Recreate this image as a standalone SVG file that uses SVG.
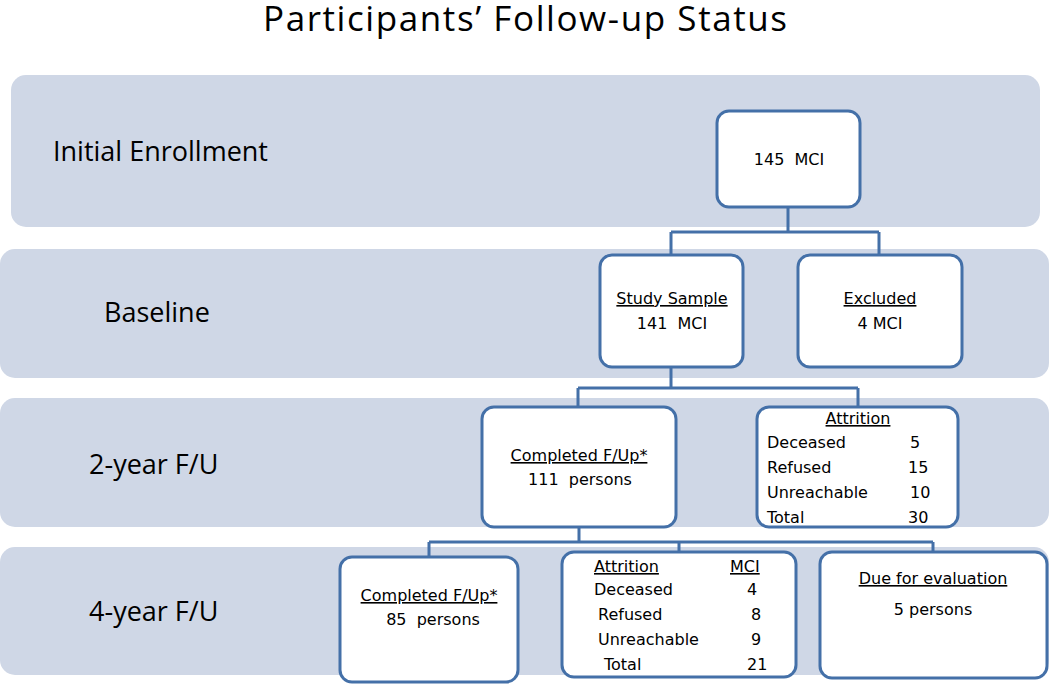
<svg xmlns="http://www.w3.org/2000/svg" width="1050" height="684" viewBox="0 0 1050 684">
<style>
.band{fill:#cfd7e6}
.box{fill:#ffffff;stroke:#4470a8;stroke-width:3}
.conn{fill:none;stroke:#4470a8;stroke-width:3}
.lbl{font-family:"Open Sans",Lato,"Liberation Sans",sans-serif;font-size:27px;fill:#000}
.t{font-family:"DejaVu Sans",Verdana,sans-serif;font-size:16px;fill:#000;white-space:pre}
.c{text-anchor:middle}
.u{text-decoration:underline}
.title{font-family:"Open Sans",Lato,"Liberation Sans",sans-serif;font-size:35px;fill:#000;text-anchor:middle}
</style>
<rect width="1050" height="684" fill="#ffffff"/>
<text class="title" x="525" y="31" textLength="524">Participants’ Follow-up Status</text>
<g id="bands">
<rect class="band" x="11" y="75" width="1029" height="152" rx="15"/>
<rect class="band" x="0" y="249" width="1049" height="129" rx="15"/>
<rect class="band" x="0" y="398" width="1049" height="129" rx="15"/>
<rect class="band" x="0" y="547" width="1049" height="128" rx="15"/>
<text class="lbl" x="53" y="161">Initial Enrollment</text>
<text class="lbl" x="104" y="322">Baseline</text>
<text class="lbl" x="89" y="474">2-year F/U</text>
<text class="lbl" x="89" y="621">4-year F/U</text>
</g>
<g id="connectors">
<path class="conn" d="M788 207V232 M671 232H879 M671 232V255 M879 232V255"/>
<path class="conn" d="M671 367V388 M578 388H858 M578 388V407 M858 388V407"/>
<path class="conn" d="M579 527V542 M429 542H933 M429 542V557 M679 542V552 M933 542V552"/>
</g>
<g id="n145">
<rect class="box" x="717" y="111" width="143" height="96" rx="12"/>
<text class="t c" x="789" y="165">145  MCI</text>
</g>
<g id="study">
<rect class="box" x="600" y="255" width="143" height="112" rx="12"/>
<text class="t c u" x="672" y="304">Study Sample</text>
<text class="t c" x="672" y="329">141  MCI</text>
</g>
<g id="excluded">
<rect class="box" x="798" y="255" width="164" height="112" rx="12"/>
<text class="t c u" x="880" y="304">Excluded</text>
<text class="t c" x="880" y="329">4 MCI</text>
</g>
<g id="completed2">
<rect class="box" x="482" y="407" width="194" height="120" rx="12"/>
<text class="t c u" x="579" y="461">Completed F/Up*</text>
<text class="t c" x="580" y="485">111  persons</text>
</g>
<g id="attrition2">
<rect class="box" x="757" y="407" width="201" height="120" rx="12"/>
<text class="t c u" x="858" y="424">Attrition</text>
<text class="t" x="767" y="448">Deceased</text>
<text class="t" x="910" y="448">5</text>
<text class="t" x="767" y="473">Refused</text>
<text class="t" x="908" y="473">15</text>
<text class="t" x="767" y="498">Unreachable</text>
<text class="t" x="910" y="498">10</text>
<text class="t" x="767" y="523">Total</text>
<text class="t" x="908" y="523">30</text>
</g>
<g id="completed4">
<rect class="box" x="340" y="557" width="178" height="125" rx="12"/>
<text class="t c u" x="429" y="601">Completed F/Up*</text>
<text class="t c" x="433" y="625">85  persons</text>
</g>
<g id="attrition4">
<rect class="box" x="562" y="552" width="234" height="125" rx="12"/>
<text class="t u" x="594" y="572">Attrition</text>
<text class="t u" x="730" y="572">MCI</text>
<text class="t" x="594" y="595">Deceased</text>
<text class="t" x="747" y="595">4</text>
<text class="t" x="598" y="620">Refused</text>
<text class="t" x="751" y="620">8</text>
<text class="t" x="598" y="645">Unreachable</text>
<text class="t" x="751" y="645">9</text>
<text class="t" x="604" y="670">Total</text>
<text class="t" x="747" y="670">21</text>
</g>
<g id="due">
<rect class="box" x="820" y="552" width="227" height="126" rx="12"/>
<text class="t c u" x="933" y="584">Due for evaluation</text>
<text class="t c" x="933" y="615">5 persons</text>
</g>
</svg>
